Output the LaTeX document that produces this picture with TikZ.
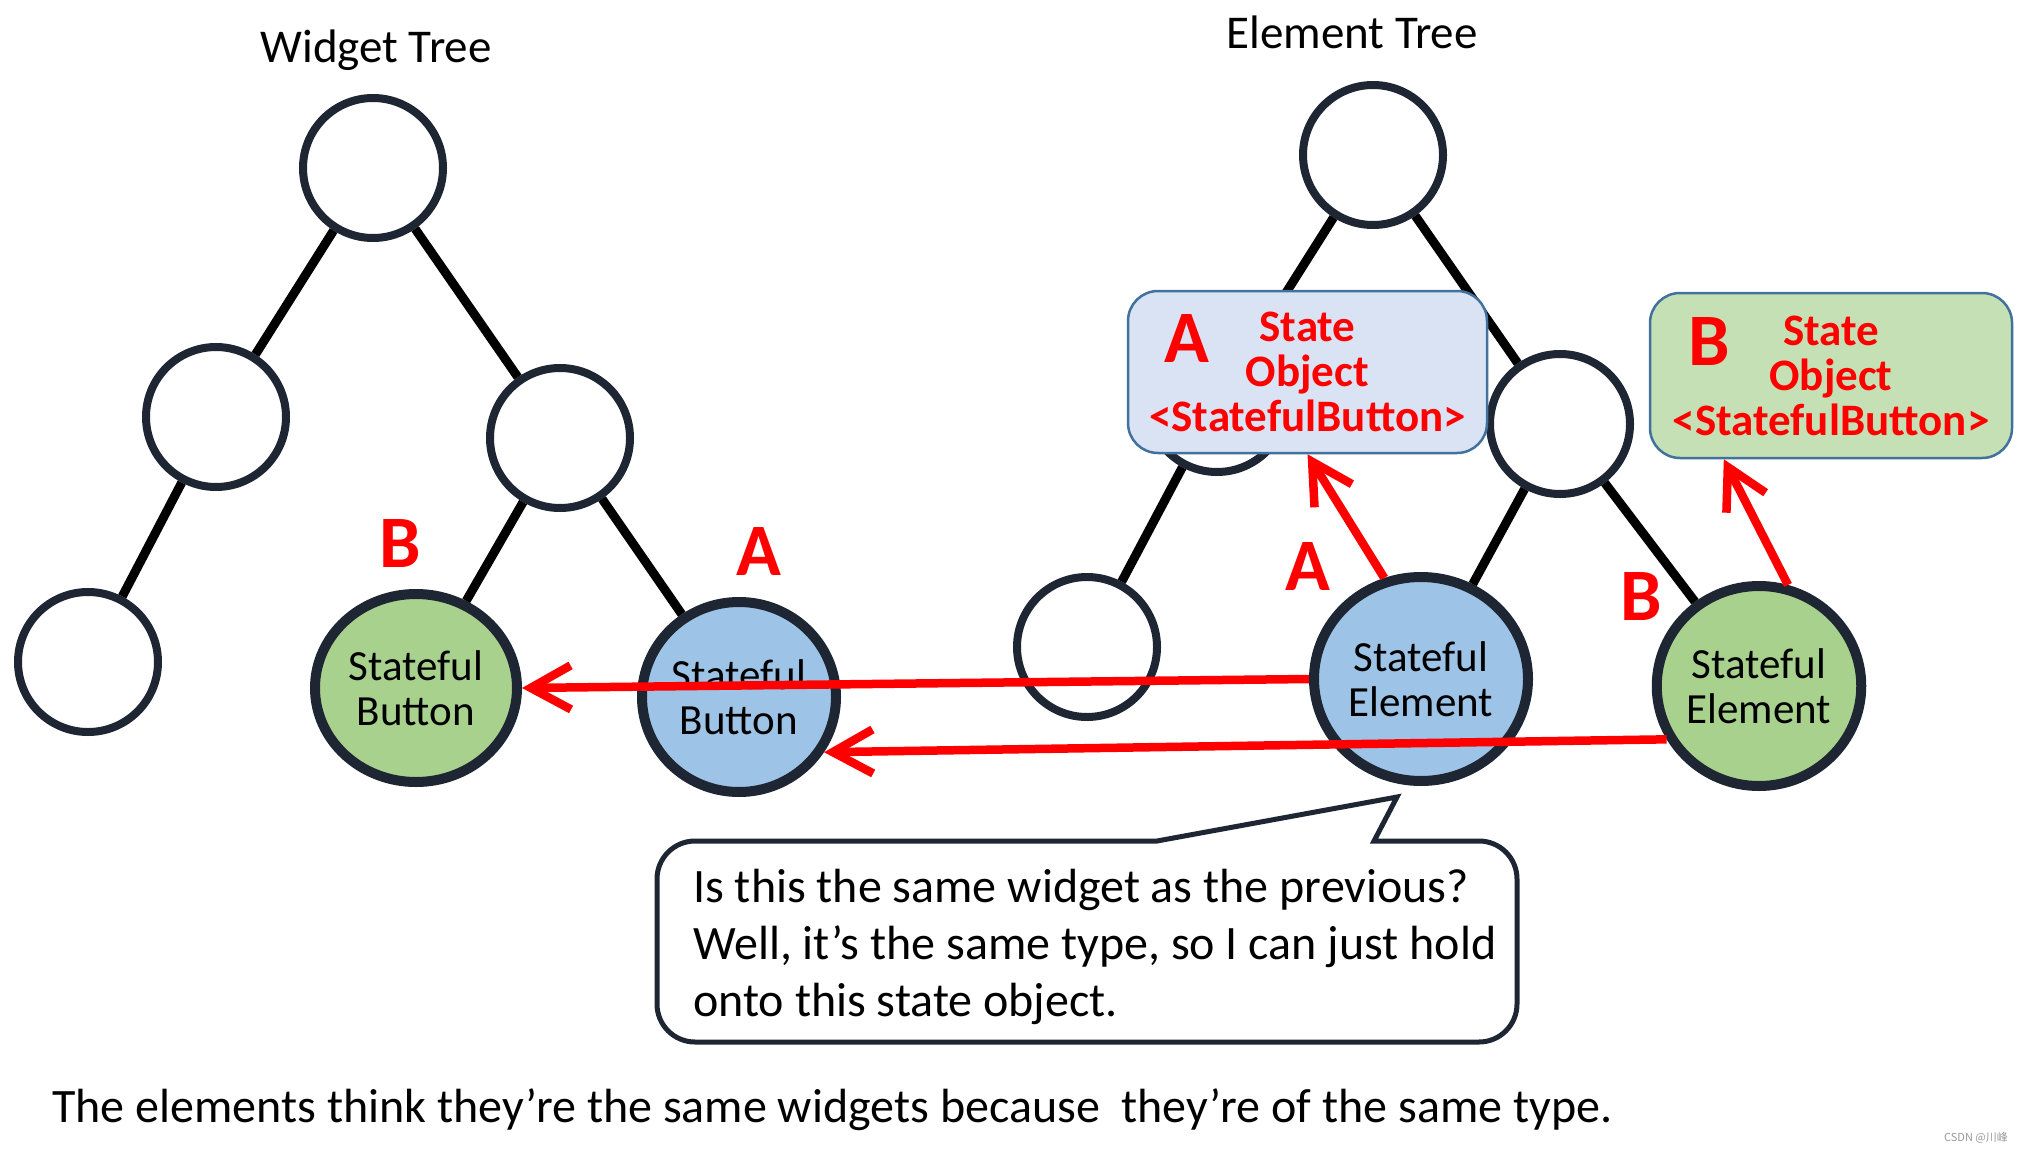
\documentclass[tikz,border=0pt]{standalone}
\usepackage{fontspec}
\setmainfont{Carlito}
\newfontfamily\cjkfont{Noto Sans CJK SC}
\usetikzlibrary{shapes.geometric,arrows.meta}

\definecolor{ringdark}{HTML}{1E2533}
\definecolor{fillblue}{HTML}{9DC3E6}
\definecolor{fillgreen}{HTML}{A9D18E}
\definecolor{boxblue}{HTML}{DAE3F3}
\definecolor{boxgreen}{HTML}{C5E0B4}
\definecolor{boxline}{HTML}{41719C}
\definecolor{markred}{HTML}{FF0000}

\tikzset{
  treenode/.style={draw=ringdark, line width=8pt, fill=white, ellipse, inner sep=0pt, minimum width=140pt, minimum height=140pt},
  statenode/.style={draw=ringdark, line width=10pt, ellipse, inner sep=0pt, align=center, font=\fontsize{43}{45}\selectfont},
  branch/.style={line width=9pt, black},
  letter/.style={text=markred, inner sep=0pt, font=\fontsize{74}{74}\selectfont\bfseries},
  stateobj/.style={draw=boxline, line width=2.5pt, rounded corners=30pt, inner sep=0pt, align=center, text=markred, font=\fontsize{45}{45}\selectfont\bfseries, minimum width=359pt, minimum height=162pt},
  link/.style={markred, line width=8.5pt, -{Straight Barb[length=40pt,width=44pt]}},
}

\begin{document}
\begin{tikzpicture}[x=1pt, y=-1pt]
\useasboundingbox (0,0) rectangle (2023,1153);
\fill[white] (0,0) rectangle (2023,1153);

% widget tree
\node[anchor=base, font=\fontsize{47}{56}\selectfont] (wTitle) at (376,63) {Widget Tree};
\node[treenode] (wRoot) at (373,168) {};
\node[treenode] (wLeft) at (216,417) {};
\node[treenode] (wRight) at (560,438) {};
\node[treenode] (wLeaf) at (88,662) {};
\node[statenode, fill=fillgreen, minimum width=202pt, minimum height=188pt] (btnB) at (416,688) {Stateful\\Button};
\node[statenode, fill=fillblue, minimum width=194pt, minimum height=190pt] (btnA) at (739,697) {Stateful\\Button};
\node[letter] (btnBLetter) at (400,544) {B};
\node[letter] (btnALetter) at (759,552) {A};

\draw[branch] (wRoot) -- (wLeft);
\draw[branch] (wRoot) -- (wRight);
\draw[branch] (wLeft) -- (wLeaf);
\draw[branch] (wRight) -- (btnB);
\draw[branch] (wRight) -- (btnA);

% element tree
\node[anchor=base, font=\fontsize{47}{56}\selectfont] (eTitle) at (1352,49) {Element Tree};
\node[treenode] (eRoot) at (1373,155) {};
\node[treenode] (eLeft) at (1217,402) {};
\node[treenode] (eRight) at (1560,424) {};
\node[treenode] (eLeaf) at (1087,647) {};
\node[statenode, fill=fillblue, minimum width=214pt, minimum height=204pt] (selA) at (1421,679) {Stateful\\Element};
\node[statenode, fill=fillgreen, minimum width=204pt, minimum height=200pt] (selB) at (1759,686) {Stateful\\Element};
\node[letter] (selALetter) at (1308,567) {A};
\node[letter] (selBLetter) at (1641,597) {B};

\draw[branch] (eRoot) -- (eLeft);
\draw[branch] (eRoot) -- (eRight);
\draw[branch] (eLeft) -- (eLeaf);
\draw[branch] (eRight) -- (selA);
\draw[branch] (eRight) -- (selB);

% state objects
\node[stateobj, fill=boxblue] (stateA) at (1307.5,372) {State\\Object\\<StatefulButton>};
\node[stateobj, fill=boxgreen, minimum width=362pt, minimum height=165pt] (stateB) at (1831,375.5) {State\\Object\\<StatefulButton>};
\node[letter] (stateALetter) at (1187,339) {A};
\node[letter] (stateBLetter) at (1709,342) {B};

% arrows
\draw[link] (selA.110) -- (stateA.south);
\draw[link] (selB.74) -- (stateB.218.7);
\draw[link] (selA.west) -- (btnB.east);
\draw[link] (selB.210) -- (btnA.-33);

% callout
\draw[draw=ringdark, line width=5pt, fill=white, rounded corners=38pt]
  (657,940) -- (657,841) [sharp corners] -- (1157,841) -- (1397,797) -- (1374,841)
  [rounded corners=38pt] -- (1517,841) -- (1517,1042) -- (657,1042) -- cycle;
\node[anchor=west, align=left, inner sep=0pt, font=\fontsize{48}{57}\selectfont] (callout) at (693,947)
  {Is this the same widget as the previous?\\Well, it’s the same type, so I can just hold\\onto this state object.};

% caption
\node[anchor=base west, inner sep=0pt, font=\fontsize{48}{56}\selectfont] (caption) at (52,1122)
  {The elements think they’re the same widgets because\ \ they’re of the same type.};
\node[anchor=east, inner sep=0pt, text=black!40, font=\cjkfont\fontsize{11}{13}\selectfont] (mark) at (2008,1138) {CSDN @川峰};
\end{tikzpicture}
\end{document}
